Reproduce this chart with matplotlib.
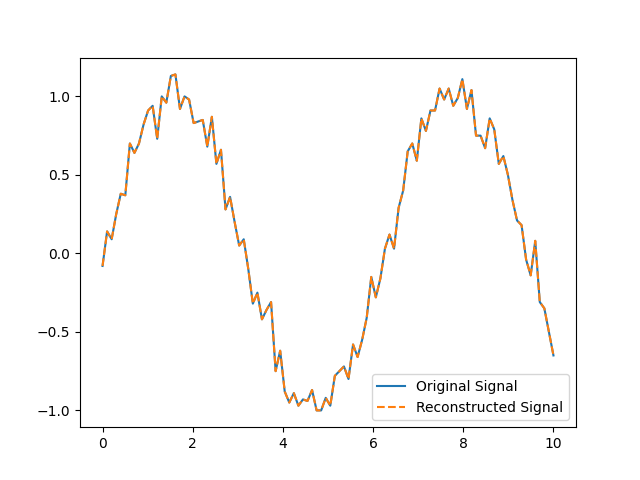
import numpy as np
import matplotlib.pyplot as plt

# values, 100 samples over 0..10
original = [
    -0.08, 0.14, 0.09, 0.25, 0.38, 0.37, 0.70, 0.64, 0.70, 0.82,
    0.91, 0.94, 0.73, 1.00, 0.96, 1.13, 1.14, 0.92, 1.00, 0.98,
    0.83, 0.84, 0.85, 0.68, 0.87, 0.57, 0.66, 0.28, 0.36, 0.20,
    0.05, 0.09, -0.10, -0.32, -0.25, -0.42, -0.36, -0.31, -0.75, -0.62,
    -0.88, -0.95, -0.89, -0.97, -0.93, -0.94, -0.87, -1.00, -1.00, -0.92,
    -0.97, -0.78, -0.75, -0.72, -0.80, -0.58, -0.66, -0.55, -0.41, -0.15,
    -0.28, -0.16, 0.03, 0.12, 0.03, 0.29, 0.40, 0.65, 0.70, 0.59,
    0.86, 0.78, 0.91, 0.91, 1.05, 0.98, 1.05, 0.94, 0.99, 1.11,
    0.92, 1.04, 0.75, 0.75, 0.67, 0.86, 0.79, 0.57, 0.62, 0.50,
    0.34, 0.21, 0.18, -0.04, -0.14, 0.08, -0.31, -0.35, -0.50, -0.65,
]
reconstructed = list(original)

t = np.linspace(0, 10, len(original))

plt.figure(figsize=(6.4, 4.8), dpi=100)
plt.plot(t, original, label="Original Signal")
plt.plot(t, reconstructed, linestyle="--", label="Reconstructed Signal")
plt.legend(loc="lower right")
plt.savefig("out.png")
